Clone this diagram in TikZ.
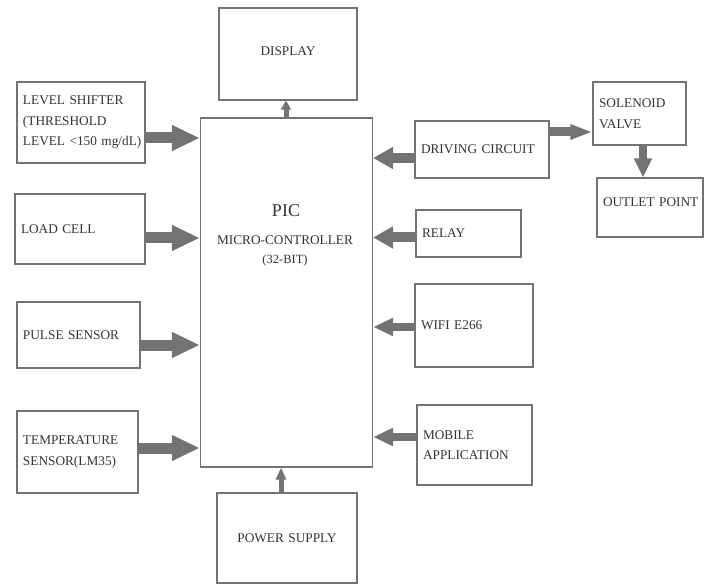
\documentclass[tikz,border=0pt]{standalone}
\usepackage{fontspec}
\setmainfont{Liberation Serif}
\usetikzlibrary{arrows.meta}
\begin{document}
\begin{tikzpicture}[x=1pt,y=-1pt,
  box/.style={draw=black!55, line width=1.2pt, inner xsep=6pt, inner ysep=2pt, align=left,
    font=\fontsize{13.3}{20.5}\selectfont, text=black!80},
  cbox/.style={box, align=center},
  fatL/.style={draw=black!55, line width=11pt, -{Triangle[length=28pt,width=24pt]}},
  fatR/.style={draw=black!55, line width=10pt, -{Triangle[length=20pt,width=21pt]}},
  midR/.style={draw=black!55, line width=8pt, -{Triangle[length=20pt,width=17pt]}},
  thin/.style={draw=black!55, line width=5pt, -{Triangle[length=9pt,width=10pt]}},
  lbl/.style={text=black!80, inner sep=0pt}
]
\useasboundingbox (0,0) rectangle (704,585);

% boxes
\node[cbox, minimum width=138pt, minimum height=92pt, text width=126pt] (disp) at (288,54) {\raisebox{6pt}{DISPLAY}};
\node[box, minimum width=128pt, minimum height=81pt, text width=116pt] (ls) at (81,122.5) {LEVEL SHIFTER\\(THRESHOLD\\\mbox{LEVEL {<}150 mg/dL)}};
\node[box, minimum width=130pt, minimum height=70pt, text width=118pt] (load) at (80,229) {LOAD CELL};
\node[box, minimum width=123pt, minimum height=66pt, text width=111pt] (pulse) at (78.5,335) {PULSE SENSOR};
\node[box, minimum width=121pt, minimum height=82pt, text width=109pt] (temp) at (77.5,452) {TEMPERATURE\\SENSOR(LM35)};
\node[draw=black!55, line width=1.2pt, minimum width=172pt, minimum height=349pt] (pic) at (286.5,292.5) {};
\node[cbox, minimum width=140pt, minimum height=90pt, text width=128pt] (pow) at (287,538) {POWER SUPPLY};
\node[box, minimum width=134pt, minimum height=57pt, text width=122pt] (drv) at (482,149.5) {DRIVING CIRCUIT};
\node[box, minimum width=93pt, minimum height=63pt, text width=81pt] (sol) at (639.5,113.5) {SOLENOID\\VALVE};
\node[box, minimum width=106pt, minimum height=59pt, text width=94pt] (out) at (650,207.5) {\raisebox{10pt}{OUTLET POINT}};
\node[box, minimum width=105pt, minimum height=47pt, text width=93pt] (relay) at (468.5,233.5) {RELAY};
\node[box, minimum width=118pt, minimum height=83pt, text width=106pt] (wifi) at (474,325.5) {WIFI E266};
\node[box, minimum width=115pt, minimum height=80pt, text width=103pt] (mob) at (474.5,445) {MOBILE\\APPLICATION};

% PIC labels
\node[lbl, font=\fontsize{18}{18}\selectfont] (pict) at (286,211) {PIC};
\node[lbl, font=\fontsize{13.3}{13.3}\selectfont] (picm) at (285,240) {MICRO-CONTROLLER};
\node[lbl, font=\fontsize{12.5}{12.5}\selectfont] (picb) at (285,260) {(32-BIT)};

% arrows from left sensors
\draw[fatL] (ls.east |- 0,138) -- (pic.west |- 0,138);
\draw[fatL] (load.east |- 0,238) -- (pic.west |- 0,238);
\draw[fatL] (pulse.east |- 0,345) -- (pic.west |- 0,345);
\draw[fatL] (temp.east |- 0,448) -- (pic.west |- 0,448);

% arrows from right modules
\draw[fatR] (drv.west |- 0,158) -- (pic.east |- 0,158);
\draw[fatR] (relay.west |- 0,237.5) -- (pic.east |- 0,237.5);
\draw[midR] (wifi.west |- 0,327) -- (pic.east |- 0,327);
\draw[midR] (mob.west |- 0,437) -- (pic.east |- 0,437);

% driving -> solenoid -> outlet
\draw[draw=black!55, line width=9pt, -{Triangle[length=22pt,width=14pt]}] (drv.east |- 0,132) -- (sol.west |- 0,132);
\draw[midR, -{Triangle[length=19pt,width=17pt]}] (sol.south -| 643,0) -- (out.north -| 643,0);

% display and power
\draw[thin] (pic.north -| 286,0) -- (disp.south -| 286,0);
\draw[thin, -{Triangle[length=12pt,width=10pt]}] (pow.north -| 281,0) -- (pic.south -| 281,0);
\end{tikzpicture}
\end{document}
